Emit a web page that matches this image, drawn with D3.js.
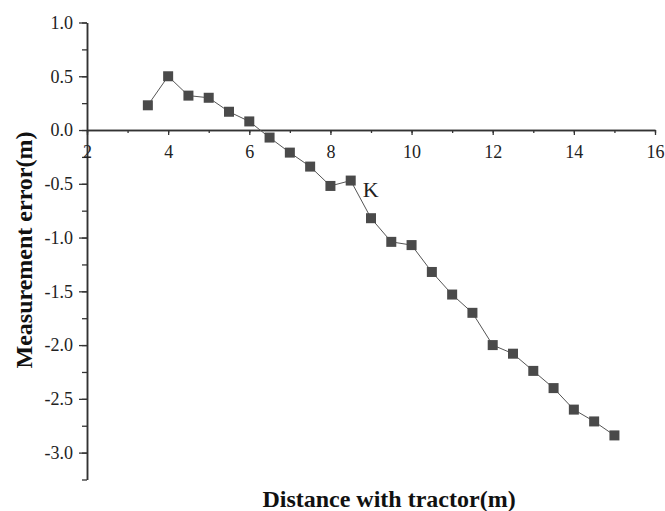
<!DOCTYPE html>
<html><head><meta charset="utf-8">
<script src="https://cdn.jsdelivr.net/npm/d3@7"></script>
<style>body{margin:0;background:#fff;} svg{display:block;} text{font-family:'Liberation Serif','Times New Roman',serif;}</style>
</head><body>
<svg id="c" width="665" height="511"></svg>
<script>
const distances = [3.5,4,4.5,5,5.5,6,6.5,7,7.5,8,8.5,9,9.5,10,10.5,11,11.5,12,12.5,13,13.5,14,14.5,15];
const errors = [0.23,0.50,0.32,0.30,0.17,0.08,-0.07,-0.21,-0.34,-0.52,-0.47,-0.82,-1.04,-1.07,-1.32,-1.53,-1.70,-2.00,-2.08,-2.24,-2.40,-2.60,-2.71,-2.84];
const xTicks = [2,4,6,8,10,12,14,16];
const yTicks = [1.0,0.5,0.0,-0.5,-1.0,-1.5,-2.0,-2.5,-3.0];
const annotation = {label:"K", x:8.5, y:-0.47};
const xTitle = "Distance with tractor(m)";
const yTitle = "Measurement error(m)";

const svg = d3.select("#c");
const x = d3.scaleLinear().domain([2,16]).range([87,655]);
const y = d3.scaleLinear().domain([-3.25,1.0]).range([479.5,22.5]);
const axisColor = "#333";
const font = "'Liberation Serif','Times New Roman',serif";
const fmtY = d => d.toFixed(1);

// y axis
const gy = svg.append("g").attr("transform",`translate(${x(2)},0)`);
gy.call(d3.axisLeft(y).tickValues(d3.range(-3.25,1.001,0.25)).tickSize(5).tickSizeOuter(0).tickFormat(""));
gy.append("g").call(d3.axisLeft(y).tickValues(yTicks).tickSize(8).tickSizeOuter(0).tickPadding(6).tickFormat(fmtY));
gy.selectAll("path.domain").attr("stroke",axisColor).attr("stroke-width",1.5);
gy.selectAll("line").attr("stroke",axisColor).attr("stroke-width",1.3);
gy.selectAll("g").attr("font-family",font);
gy.selectAll("text").style("font-family",font).attr("font-size",18).attr("fill","#222");

// x axis at y=0
const gx = svg.append("g").attr("transform",`translate(0,${y(0)})`);
gx.call(d3.axisBottom(x).tickValues(d3.range(2,16.01,1)).tickSize(3).tickSizeOuter(0).tickFormat(""));
gx.append("g").call(d3.axisBottom(x).tickValues(xTicks).tickSize(5).tickSizeOuter(0).tickPadding(10).tickFormat(d => String(d)));
gx.selectAll("path.domain").attr("stroke",axisColor).attr("stroke-width",1.5);
gx.selectAll("line").attr("stroke",axisColor).attr("stroke-width",1.3);
gx.selectAll("g").attr("font-family",font);
gx.selectAll("text").style("font-family",font).attr("font-size",18).attr("fill","#222");

// line
const data = distances.map((d,i)=>({x:d,y:errors[i]}));
svg.append("path").datum(data)
  .attr("d", d3.line().x(d=>x(d.x)).y(d=>y(d.y)))
  .attr("fill","none").attr("stroke","#555").attr("stroke-width",1);
const s = 10;
svg.selectAll("rect.pt").data(data).enter().append("rect").attr("class","pt")
  .attr("x",d=>x(d.x)-s/2).attr("y",d=>y(d.y)-s/2).attr("width",s).attr("height",s)
  .attr("fill","#4a4a4a");

svg.append("text").attr("x",x(annotation.x)+12).attr("y",y(annotation.y)+16)
  .style("font-family",font).attr("font-size",22).attr("fill","#222").text(annotation.label);

svg.append("text").attr("x",389).attr("y",507).attr("text-anchor","middle")
  .style("font-family",font).attr("font-weight","bold").attr("font-size",24).attr("fill","#111").text(xTitle);
svg.append("text").attr("transform","translate(32,250) rotate(-90)").attr("text-anchor","middle")
  .style("font-family",font).attr("font-weight","bold").attr("font-size",24).attr("fill","#111").text(yTitle);
</script>
</body></html>
